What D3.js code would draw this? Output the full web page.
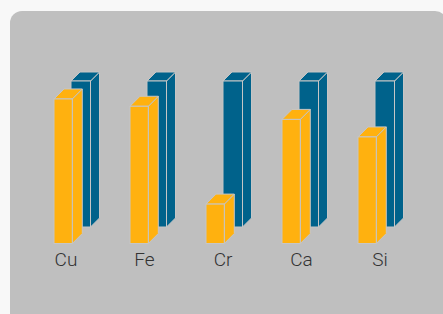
<!DOCTYPE html>
<html>
<head>
<meta charset="utf-8">
<script src="https://cdn.jsdelivr.net/npm/d3@7"></script>
<style>
  html, body { margin: 0; padding: 0; background: #f8f8f8; }
  svg { display: block; }
</style>
</head>
<body>
<svg id="chart" width="443" height="314"></svg>
<script>
const categories = ["Cu", "Fe", "Cr", "Ca", "Si"];
const frontValues = [99, 94, 27, 85, 73];      // yellow series (front row)
const backValues = [100, 100, 100, 100, 100];  // blue series (back row)
const yDomain = [0, 100];

const svg = d3.select("#chart");

// panel
svg.append("rect")
  .attr("x", 10).attr("y", 11)
  .attr("width", 437).attr("height", 320)
  .attr("rx", 12).attr("ry", 12)
  .attr("fill", "#bfbfbf");

// scales
const xFront = d3.scalePoint().domain(categories).range([54, 358]);
const xBack = d3.scalePoint().domain(categories).range([71, 375]);
const xLabel = d3.scalePoint().domain(categories).range([66, 380]);
const yFront = d3.scaleLinear().domain(yDomain).range([243.5, 97.5]);
const yBack = d3.scaleLinear().domain(yDomain).range([227, 81]);

function drawSeries(values, xs, ys, w, d, color) {
  const g = svg.append("g");
  categories.forEach((c, i) => {
    const x = xs(c), y0 = ys(0), y1 = ys(values[i]);
    const bar = g.append("g");
    const stroke = "#c6c6c6";
    // side face
    bar.append("polygon")
      .attr("points", [[x + w, y1], [x + w + d, y1 - d], [x + w + d, y0 - d], [x + w, y0]].map(p => p.join(",")).join(" "))
      .attr("fill", color).attr("stroke", stroke).attr("stroke-width", 1).attr("stroke-linejoin", "round");
    // top face
    bar.append("polygon")
      .attr("points", [[x, y1], [x + d, y1 - d], [x + w + d, y1 - d], [x + w, y1]].map(p => p.join(",")).join(" "))
      .attr("fill", color).attr("stroke", stroke).attr("stroke-width", 1).attr("stroke-linejoin", "round");
    // front face
    bar.append("rect")
      .attr("x", x).attr("y", y1)
      .attr("width", w).attr("height", y0 - y1)
      .attr("fill", color).attr("stroke", stroke).attr("stroke-width", 1);
  });
}

drawSeries(backValues, xBack, yBack, 19.5, 9, "#00628b");
drawSeries(frontValues, xFront, yFront, 18.3, 10, "#ffb10f");

// category labels
svg.append("g").selectAll("text")
  .data(categories)
  .join("text")
  .attr("x", d => xLabel(d))
  .attr("y", 266)
  .attr("text-anchor", "middle")
  .attr("font-family", "Roboto, 'Liberation Sans', sans-serif")
  .attr("font-weight", 300)
  .attr("font-size", 19)
  .attr("fill", "#333")
  .text(d => d);
</script>
</body>
</html>
